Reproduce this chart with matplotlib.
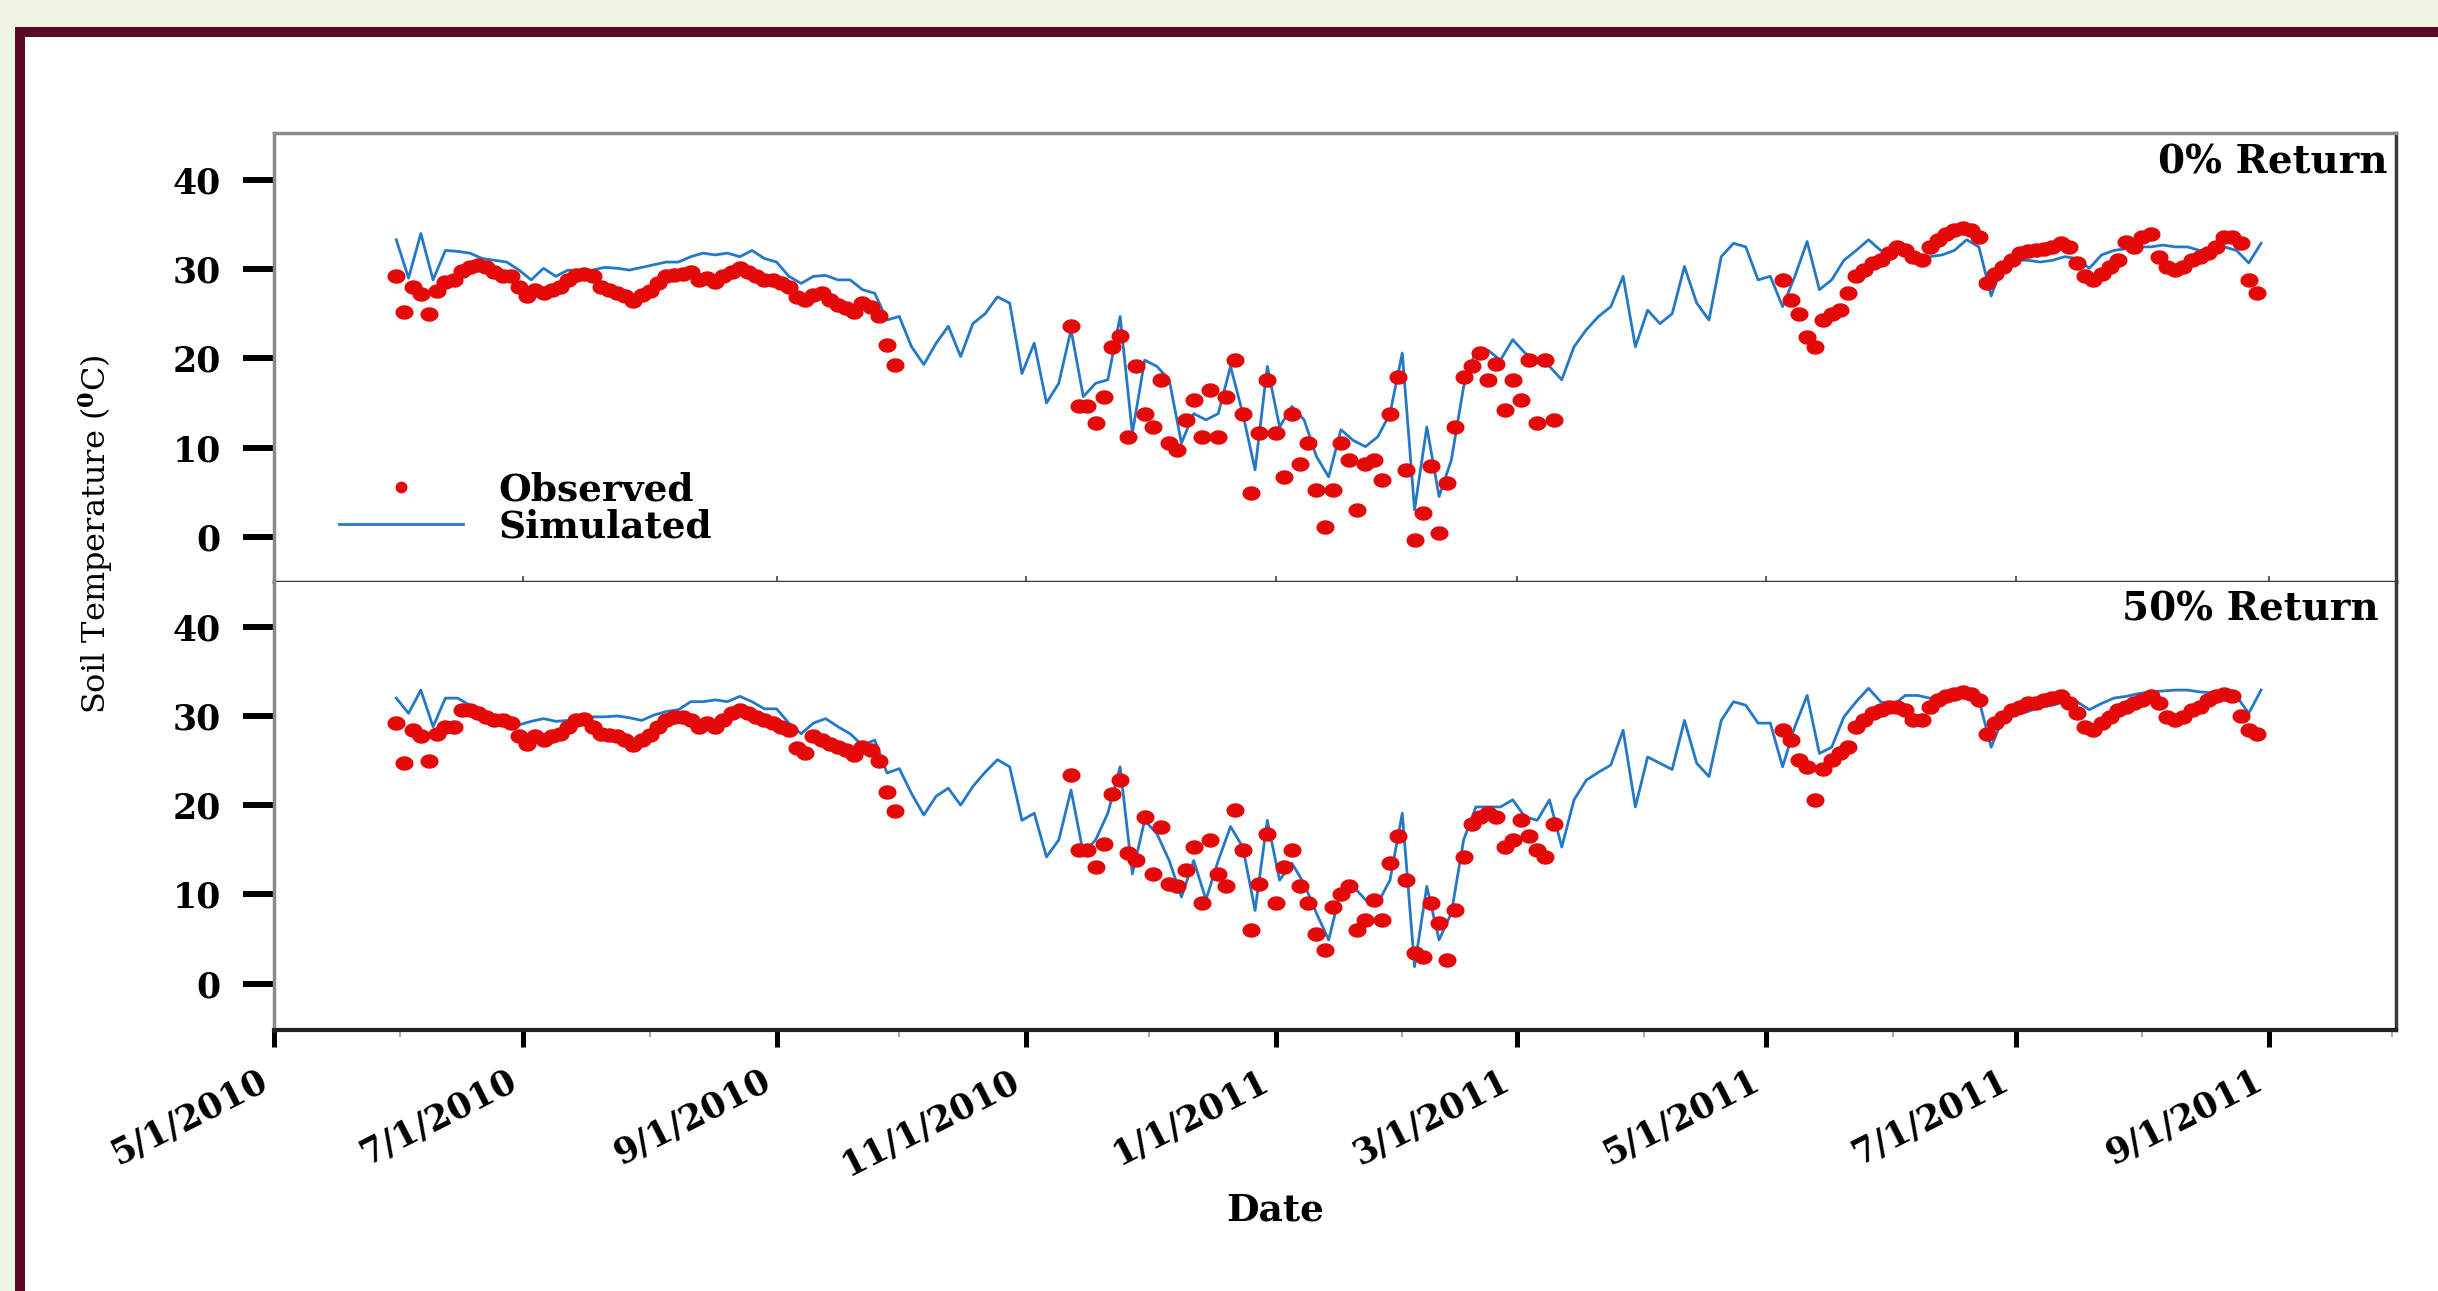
import matplotlib.pyplot as plt
import matplotlib.dates as mdates
import matplotlib.transforms as mtransforms
from matplotlib.patches import Rectangle
from matplotlib.lines import Line2D
from matplotlib.path import Path
import numpy as np
import pandas as pd

# simulated soil temperature, one value every 3rd day from 31 May 2010
SIM_START = '2010-05-31'
sim_0 = [
    33.3, 29.0, 34.0, 28.8, 32.1, 32.0, 31.8, 31.2, 31.0, 30.8, 29.9, 28.8, 30.1,
    29.2, 29.9, 29.7, 29.9, 30.2, 30.1, 29.9, 30.2, 30.5, 30.8, 30.8, 31.4, 31.8,
    31.6, 31.8, 31.4, 32.1, 31.2, 30.8, 29.2, 28.4, 29.2, 29.3, 28.8, 28.8, 27.7,
    27.3, 24.3, 24.7, 21.3, 19.3, 21.7, 23.6, 20.2, 23.9, 25.0, 26.9, 26.2,
    18.3, 21.7, 15.0, 17.2, 23.2, 15.7, 17.2, 17.6, 24.7, 11.6, 19.8, 19.1, 17.6,
    10.5, 13.8, 13.1, 13.8, 19.1, 13.8, 7.5, 19.1, 12.3, 14.6, 13.1, 9.0, 6.7,
    12.0, 10.8, 10.1, 11.2, 13.8, 20.6, 3.0, 12.3, 4.5, 8.6, 16.8, 20.9, 20.9,
    19.8, 22.1, 20.6, 19.8, 19.1, 17.6, 21.3, 23.2, 24.7, 25.8, 29.2,
    21.3, 25.4, 23.9, 25.0, 30.3, 26.2, 24.3, 31.4, 32.9, 32.5, 28.8, 29.2, 25.8,
    29.2, 33.1, 27.7, 28.8, 31.0, 32.1, 33.3, 32.1, 32.0, 32.1, 31.4, 31.4, 31.6,
    32.1, 33.3, 32.5, 27.0, 30.7, 31.0, 31.0, 30.8, 31.0, 31.4, 31.2, 30.1, 31.6,
    32.1, 32.3, 32.5, 32.5, 32.7, 32.5, 32.5, 32.1, 32.3, 32.5, 32.1, 30.7, 32.9,
]
sim_50 = [
    32.0, 30.3, 32.9, 28.8, 32.0, 32.0, 31.2, 30.8, 29.5, 30.1, 29.0, 29.4, 29.7,
    29.4, 29.5, 29.7, 29.9, 29.9, 30.0, 29.8, 29.5, 30.1, 30.5, 30.7, 31.6, 31.6,
    31.8, 31.6, 32.2, 31.6, 30.8, 30.8, 29.2, 28.0, 29.2, 29.7, 28.8, 28.0, 26.7,
    27.3, 23.6, 24.1, 21.3, 18.9, 21.0, 21.9, 20.0, 22.1, 23.7, 25.1, 24.3,
    18.3, 19.1, 14.2, 16.1, 21.7, 14.6, 16.1, 19.1, 24.3, 12.3, 18.3, 16.8, 13.8,
    9.7, 13.8, 9.4, 13.8, 17.6, 15.3, 8.2, 18.3, 11.6, 13.5, 11.2, 7.9, 4.9,
    10.5, 10.9, 9.4, 9.0, 11.6, 19.1, 1.9, 10.9, 4.9, 7.9, 16.1, 19.8, 19.8,
    19.8, 20.6, 18.7, 18.3, 20.6, 15.3, 20.6, 22.8, 23.7, 24.5, 28.4,
    19.8, 25.4, 24.7, 24.0, 29.5, 24.7, 23.2, 29.5, 31.6, 31.2, 29.2, 29.2, 24.3,
    28.8, 32.3, 25.8, 26.5, 29.9, 31.6, 33.1, 31.6, 31.2, 32.3, 32.3, 32.0, 32.0,
    32.3, 32.9, 31.8, 26.5, 29.9, 30.1, 30.5, 31.0, 31.2, 31.6, 31.6, 30.7, 31.4,
    32.0, 32.2, 32.5, 32.7, 32.8, 32.9, 32.9, 32.7, 32.6, 32.5, 32.2, 30.3, 32.9,
]

# observed, one value every 2nd day, three measuring periods
OBS_STARTS = ['2010-05-31', '2010-11-12', '2011-05-05']
obs_0_summer10 = [
    29.2, 25.2, 28.0, 27.2, 25.0, 27.5, 28.6, 28.8, 29.8, 30.3, 30.5, 30.3, 29.7,
    29.2, 29.2, 28.0, 27.0, 27.7, 27.3, 27.7, 28.0, 28.8, 29.3, 29.5, 29.2, 28.0,
    27.7, 27.3, 27.0, 26.4, 27.1, 27.5, 28.4, 29.2, 29.3, 29.5, 29.7, 28.8, 29.0,
    28.6, 29.2, 29.7, 30.1, 29.7, 29.2, 28.8, 28.8, 28.4, 28.0, 26.9, 26.5, 27.1,
    27.3, 26.5, 26.0, 25.6, 25.2, 26.2, 25.8, 24.8, 21.5, 19.3,
]
obs_0_winter = [
    23.6, 14.6, 14.6, 12.7, 15.7, 21.3, 22.5, 11.2, 19.1, 13.8, 12.3, 17.6, 10.5,
    9.7, 13.1, 15.3, 11.2, 16.4, 11.2, 15.7, 19.8, 13.8, 4.9, 11.6, 17.6, 11.6,
    6.7, 13.8, 8.2, 10.5, 5.2, 1.1, 5.2, 10.5, 8.6, 3.0, 8.2, 8.6, 6.4, 13.8,
    17.9, 7.5, -0.4, 2.6, 7.9, 0.4, 6.0, 12.3, 17.9, 19.1, 20.6, 17.6, 19.4,
    14.2, 17.6, 15.3, 19.8, 12.7, 19.8, 13.1,
]
obs_0_summer11 = [
    28.8, 26.5, 25.0, 22.4, 21.3, 24.3, 25.0, 25.4, 27.3, 29.2, 29.9, 30.7, 31.0,
    31.8, 32.5, 32.1, 31.4, 31.0, 32.5, 33.3, 34.0, 34.4, 34.6, 34.4, 33.6, 28.4,
    29.5, 30.3, 31.0, 31.8, 32.0, 32.1, 32.3, 32.5, 32.9, 32.5, 30.7, 29.2, 28.8,
    29.5, 30.3, 31.0, 33.1, 32.5, 33.6, 34.0, 31.4, 30.3, 29.9, 30.3, 31.0, 31.4,
    31.8, 32.5, 33.6, 33.6, 32.9, 28.8, 27.3,
]
obs_50_summer10 = [
    29.2, 24.7, 28.4, 27.7, 24.9, 28.0, 28.8, 28.8, 30.7, 30.7, 30.3, 29.9, 29.5,
    29.5, 29.2, 27.7, 26.9, 27.7, 27.3, 27.7, 28.0, 28.8, 29.5, 29.7, 28.8, 28.0,
    27.9, 27.7, 27.3, 26.7, 27.3, 27.9, 28.8, 29.5, 29.9, 29.9, 29.5, 28.8, 29.2,
    28.8, 29.5, 30.3, 30.7, 30.3, 29.9, 29.5, 29.2, 28.8, 28.4, 26.4, 25.8, 27.7,
    27.3, 26.9, 26.5, 26.2, 25.6, 26.5, 26.2, 24.9, 21.5, 19.3,
]
obs_50_winter = [
    23.4, 15.0, 15.0, 13.1, 15.7, 21.3, 22.8, 14.6, 13.8, 18.7, 12.3, 17.6, 11.2,
    10.9, 12.7, 15.3, 9.0, 16.1, 12.3, 10.9, 19.5, 15.0, 6.0, 11.2, 16.8, 9.0,
    13.1, 15.0, 10.9, 9.0, 5.6, 3.8, 8.6, 10.1, 10.9, 6.0, 7.1, 9.4, 7.1, 13.5,
    16.5, 11.6, 3.4, 3.0, 9.0, 6.8, 2.6, 8.3, 14.2, 17.9, 18.7, 19.1, 18.7,
    15.3, 16.1, 18.3, 16.5, 15.0, 14.2, 17.9,
]
obs_50_summer11 = [
    28.4, 27.3, 25.1, 24.3, 20.6, 24.0, 25.1, 25.8, 26.5, 28.8, 29.5, 30.3, 30.7,
    31.0, 31.0, 30.7, 29.5, 29.5, 31.0, 31.8, 32.2, 32.5, 32.7, 32.5, 31.8, 28.0,
    29.2, 29.9, 30.7, 31.0, 31.4, 31.4, 31.8, 32.0, 32.2, 31.4, 30.3, 28.8, 28.4,
    29.2, 29.9, 30.7, 31.0, 31.5, 31.8, 32.2, 31.5, 29.9, 29.5, 29.9, 30.7, 31.0,
    31.8, 32.2, 32.5, 32.2, 30.0, 28.4, 28.0,
]

tick_dates = ['2010-05-01', '2010-07-01', '2010-09-01', '2010-11-01', '2011-01-01',
              '2011-03-01', '2011-05-01', '2011-07-01', '2011-09-01']
tick_labels = ['5/1/2010', '7/1/2010', '9/1/2010', '11/1/2010', '1/1/2011',
               '3/1/2011', '5/1/2011', '7/1/2011', '9/1/2011']
y_ticks = [0, 10, 20, 30, 40]
panel_titles = ['0% Return', '50% Return']

BLUE = '#2478c6'
RED = '#e40808'
MAROON = '#5c0828'
W, H = 2438, 1291

plt.rcParams['font.family'] = ['DejaVu Serif']
plt.rcParams['font.weight'] = 'bold'
plt.rcParams['mathtext.fontset'] = 'dejavuserif'

# the source picture is stretched sideways, so the dots are slightly wide ellipses
t = np.linspace(0, 2 * np.pi, 41)
DOT = Path(np.column_stack([1.25 * np.cos(t), np.sin(t)]), closed=True)

fig = plt.figure(figsize=(W / 100, H / 100), dpi=100, facecolor='#eef5e5')
fig.patches.append(Rectangle((20 / W, -0.1), 1.2, 1.1 - 32 / H, transform=fig.transFigure,
                             facecolor='white', edgecolor=MAROON, lw=7.2, zorder=-5))

left, width = 273.6 / W, (2396 - 273.6) / W
ax1 = fig.add_axes([left, 1 - 581.7 / H, width, 448.4 / H])
ax2 = fig.add_axes([left, 1 - 1030 / H, width, 448.3 / H])


def draw_panel(ax, sim, obs_parts, title, ylim, title_pos):
    sim_dates = pd.date_range(SIM_START, periods=len(sim), freq='3D')
    line, = ax.plot(sim_dates, sim, color=BLUE, lw=2.0, zorder=2)
    for start, vals in zip(OBS_STARTS, obs_parts):
        d = pd.date_range(start, periods=len(vals), freq='2D')
        ax.plot(d, vals, ls='none', marker=DOT, ms=13, mew=0, color=RED, zorder=3)
    ax.set_xlim(pd.Timestamp('2010-05-01'), pd.Timestamp('2011-10-02'))
    ax.set_ylim(*ylim)
    ax.set_yticks(y_ticks)
    ax.tick_params(axis='y', direction='out', length=22, width=4.3, pad=16,
                   labelsize=25)
    ax.set_xticks(pd.to_datetime(tick_dates))
    ax.text(title_pos[0], title_pos[1], title, transform=ax.transAxes,
            ha='right', va='top', fontsize=28, fontweight='bold')
    for s in ('left', 'top'):
        ax.spines[s].set_color('#8a8a8a')
        ax.spines[s].set_linewidth(2.5)
    for s in ('right', 'bottom'):
        ax.spines[s].set_color('#3a3a3a')
        ax.spines[s].set_linewidth(2.5)
    return line


line = draw_panel(ax1, sim_0, [obs_0_summer10, obs_0_winter, obs_0_summer11],
                  panel_titles[0], (-5.05, 45.24), (0.996, 0.978))
draw_panel(ax2, sim_50, [obs_50_summer10, obs_50_winter, obs_50_summer11],
           panel_titles[1], (-5.2, 45.05), (0.992, 0.98))

ax1.tick_params(axis='x', direction='in', length=4, width=1.5, color='#666',
                labelbottom=False)
dot_key = Line2D([], [], ls='none', marker='o', ms=8.5, mew=0, color=RED)
ax1.legend([dot_key, line], ['Observed', 'Simulated'], loc='center left',
           bbox_to_anchor=(0.0308, 0.164), frameon=False, fontsize=27,
           borderpad=0, borderaxespad=0, handlelength=3.3, handletextpad=0.95,
           labelspacing=0.0, numpoints=1)

ax2.set_xticklabels(tick_labels)
ax2.xaxis.set_minor_locator(mdates.MonthLocator(bymonth=[2, 4, 6, 8, 10, 12]))
ax2.tick_params(axis='x', which='major', direction='out', length=12, width=3.6,
                pad=12, labelsize=25, labelrotation=27)
ax2.tick_params(axis='x', which='minor', direction='out', length=5, width=1.5,
                color='#aaaaaa')
ax2.spines['top'].set_visible(False)
ax2.spines['bottom'].set_color('#222')
ax2.spines['bottom'].set_linewidth(3)
shift = mtransforms.ScaledTranslation(-12 / 72, 0, fig.dpi_scale_trans)
for lbl in ax2.get_xticklabels():
    lbl.set_ha('right')
    lbl.set_rotation_mode('anchor')
    lbl.set_transform(lbl.get_transform() + shift)

ax2.set_xlabel('Date', fontsize=27, fontweight='bold')
ax2.xaxis.set_label_coords(0.4718, -0.36)

fig.text(96 / W, 1 - 534 / H, r'Soil Temperature ($^{0}$C)', rotation=90,
         ha='center', va='center', fontsize=23, fontweight='normal')

fig.savefig('out.png', dpi=100, facecolor=fig.get_facecolor())
